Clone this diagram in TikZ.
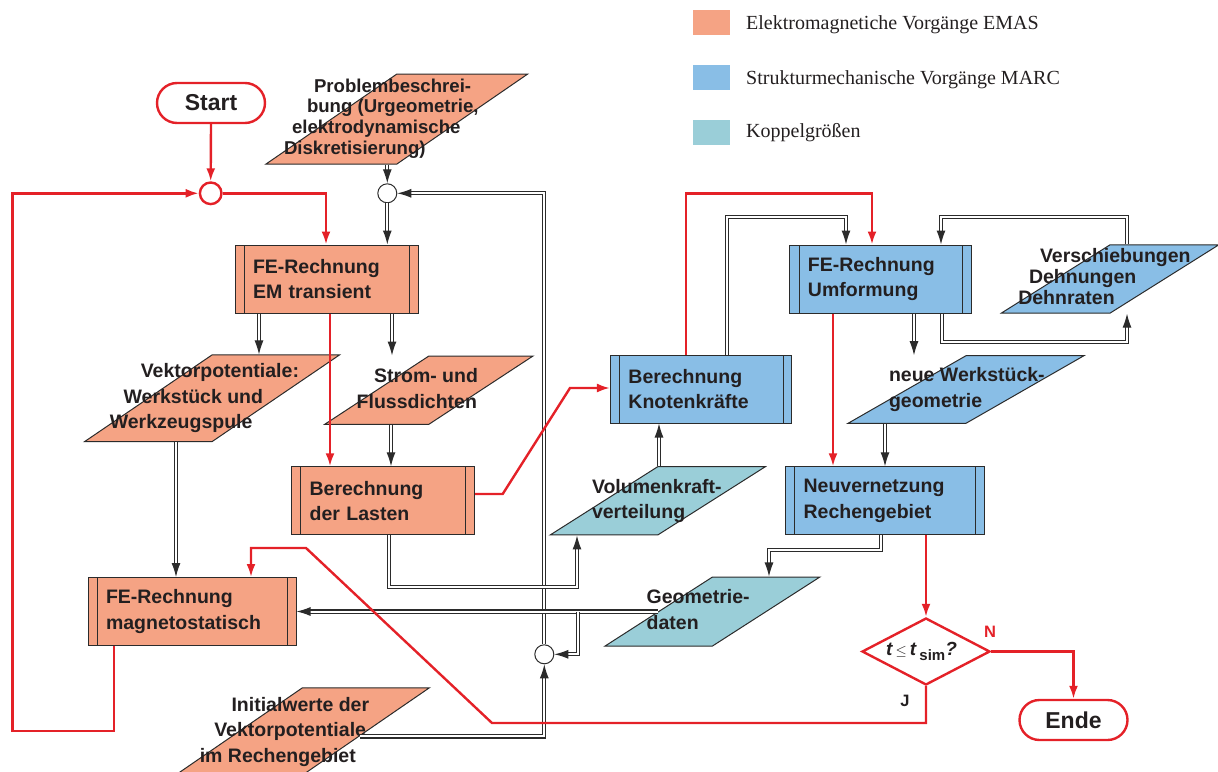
\documentclass[tikz,border=0pt]{standalone}
\usepackage{fontspec}
\setmainfont{Liberation Serif}
\setsansfont{Liberation Sans}
\usetikzlibrary{shapes.geometric,arrows.meta}
\definecolor{emas}{HTML}{F5A384}
\definecolor{marc}{HTML}{89BEE6}
\definecolor{koppel}{HTML}{9ACED8}
\definecolor{linec}{HTML}{2B2B2B}
\definecolor{redc}{HTML}{E42128}
\definecolor{txtc}{HTML}{231F20}
% text block of a slanted box: offset of its left edge from the centre, lines
\newcommand{\ptxt}[2]{\makebox[0pt][l]{\hspace*{#1}\begin{tabular}{@{}l@{}}#2\end{tabular}}}
\tikzset{
  boxfont/.style={font=\sffamily\bfseries\fontsize{19.5}{25.5}\selectfont, text=txtc},
  proc/.style={boxfont, rectangle, draw=linec, line width=1pt, minimum height=68pt,
    inner xsep=18pt, text width=#1, align=left,
    path picture={\draw[linec, line width=0.8pt]
      ([xshift=9pt]path picture bounding box.north west) -- ([xshift=9pt]path picture bounding box.south west)
      ([xshift=-9pt]path picture bounding box.north east) -- ([xshift=-9pt]path picture bounding box.south east);}},
  iobox/.style={boxfont, trapezium, trapezium stretches=true, draw=linec, line width=1pt, inner sep=0pt},
  term/.style={rectangle, rounded corners=20pt, draw=redc, line width=2.4pt, fill=white,
    minimum width=108pt, minimum height=40pt, font=\sffamily\bfseries\fontsize{23}{25}\selectfont, text=txtc},
  junc/.style={circle, draw=linec, line width=1pt, fill=white, inner sep=0pt, minimum size=#1},
  decide/.style={diamond, draw=redc, line width=2.4pt, fill=white, inner sep=0pt,
    minimum width=128pt, minimum height=67pt, text=txtc},
  dbl/.style={draw=linec, double=white, double distance=2pt, line width=1.1pt, -{Latex[length=14pt,width=9pt]}},
  redl/.style={draw=redc, line width=2.4pt, -{Latex[length=13pt,width=9pt]}},
  legbox/.style={minimum width=37pt, minimum height=25pt, inner sep=0pt},
  legtxt/.style={anchor=west, inner sep=0pt, font=\fontsize{20}{23}\selectfont, text=txtc},
  yn/.style={font=\sffamily\bfseries\fontsize{16.5}{17}\selectfont}
}
\begin{document}
\begin{tikzpicture}[x=1pt, y=-1pt]
\useasboundingbox (0,0) rectangle (1218,771);
% legend
\node[legbox, fill=emas] (legem) at (711.5,22.5) {};
\node[legtxt] (legemtxt) at (746,25) {Elektromagnetiche Vorgänge EMAS};
\node[legbox, fill=marc] (legmarc) at (711.5,77.5) {};
\node[legtxt] (legmarctxt) at (746,80) {Strukturmechanische Vorgänge MARC};
\node[legbox, fill=koppel] (legkop) at (711.5,132) {};
\node[legtxt] (legkoptxt) at (746,133) {Koppelgrößen};

% EMAS part
\node[term] (start) at (211,103) {Start};
\node[junc=21.6pt, draw=redc, line width=2.4pt] (circr) at (210.7,193.3) {};
\node[iobox, fill=emas, minimum width=262pt, minimum height=90pt, trapezium left angle=62, trapezium right angle=118,
  font=\sffamily\bfseries\fontsize{18.6}{20.6}\selectfont] (probl) at (396.9,119)
  {\ptxt{-112.9pt}{\hspace*{30pt}Problembeschrei-\\\hspace*{23pt}bung (Urgeometrie,\\\hspace*{8pt}elektrodynamische\\Diskretisierung)}};
\node[junc=19pt] (circ1) at (387.3,193.3) {};
\node[junc=19pt] (circ2) at (544.3,654.3) {};
\node[proc=147pt, fill=emas] (feem) at (326.5,279) {FE-Rechnung\\EM transient};
\node[iobox, fill=emas, minimum width=255.6pt, minimum height=86.7pt, trapezium left angle=60, trapezium right angle=120] (vekt) at (212,398.3)
  {\ptxt{-102.2pt}{\hspace*{31pt}Vektorpotentiale:\\\hspace*{13.8pt}Werkstück und\\Werkzeugspule}};
\node[iobox, fill=emas, minimum width=208.5pt, minimum height=68.3pt, trapezium left angle=59, trapezium right angle=121] (strom) at (428.8,390.2)
  {\ptxt{-72.1pt}{\hspace*{17.3pt}Strom- und\\Flussdichten}};
\node[proc=147pt, fill=emas] (lasten) at (383.1,500.8) {Berechnung\\der Lasten};
\node[proc=172pt, fill=emas] (femag) at (192,611.5) {FE-Rechnung\\magnetostatisch};
\node[iobox, fill=emas, minimum width=254.5pt, minimum height=87.3pt, trapezium left angle=60, trapezium right angle=120] (init) at (302.5,731.4)
  {\ptxt{-102.7pt}{\hspace*{31.7pt}Initialwerte der\\\hspace*{14.5pt}Vektorpotentiale\\im Rechengebiet}};

% MARC part
\node[proc=145.5pt, fill=marc] (knoten) at (701.2,389) {Berechnung\\Knotenkräfte};
\node[iobox, fill=koppel, minimum width=216.5pt, minimum height=68.3pt, trapezium left angle=58, trapezium right angle=122] (volk) at (657.8,500.8)
  {\ptxt{-65.8pt}{Volumenkraft-\\verteilung}};
\node[proc=145.5pt, fill=marc] (feumf) at (880.7,279) {FE-Rechnung\\Umformung};
\node[iobox, fill=marc, minimum width=218pt, minimum height=68.3pt, trapezium left angle=62, trapezium right angle=118,
  font=\sffamily\bfseries\fontsize{19.5}{21}\selectfont] (versch) at (1110,279)
  {\ptxt{-91.7pt}{\hspace*{21.7pt}Verschiebungen\\\hspace*{10.7pt}Dehnungen\\Dehnraten}};
\node[iobox, fill=marc, minimum width=236pt, minimum height=67.6pt, trapezium left angle=55, trapezium right angle=125] (neuw) at (966,389.5)
  {\ptxt{-77pt}{neue Werkstück-\\geometrie}};
\node[proc=162.4pt, fill=marc] (neuv) at (884.8,500.8) {Neuvernetzung\\Rechengebiet};
\node[iobox, fill=koppel, minimum width=215pt, minimum height=69pt, trapezium left angle=59, trapezium right angle=121] (geo) at (712.5,611.5)
  {\ptxt{-65.8pt}{Geometrie-\\daten}};
\node[decide] (dia) at (926,651.5)
  {\makebox[0pt]{\hspace*{-9pt}\sffamily\bfseries\itshape\fontsize{19}{21}\selectfont t\,{\normalfont\fontsize{14}{14}\selectfont$\leq$}\,t\,\raisebox{-5pt}{\upshape\fontsize{15}{15}\selectfont sim}?}};
\node[term] (ende) at (1073.5,720) {Ende};
\node[yn, text=redc] (lbln) at (990,632) {N};
\node[yn, text=txtc] (lblj) at (905,701) {J};

% black connectors
\draw[dbl] (probl.south -| circ1) -- (circ1.north);
\draw[dbl] (circ1.south) -- (feem.north -| circ1);
\draw[dbl] (circ2.north) |- (circ1.east);
\draw[dbl] (feem.south -| 259,0) -- (vekt.north -| 259,0);
\draw[dbl] (feem.south -| 392,0) -- (strom.north -| 392,0);
\draw[dbl] (vekt.south -| 176,0) -- (femag.north -| 176,0);
\draw[dbl] (strom.south -| 391,0) -- (lasten.north -| 391,0);
\draw[dbl] (lasten.south -| 389,0) |- (577,587) -- (volk.south -| 577,0);
\draw[dbl] (volk.north -| 659,0) -- (knoten.south -| 659,0);
\draw[dbl] (knoten.north -| 727,0) |- (846,217) -- (feumf.north -| 846,0);
\draw[dbl] (versch.north -| 1127,0) |- (941,217) -- (feumf.north -| 941,0);
\draw[dbl] (feumf.south -| 942,0) |- (1127,341.7) -- (versch.south -| 1127,0);
\draw[dbl] (feumf.south -| 914,0) -- (neuw.north -| 914,0);
\draw[dbl] (neuw.south -| 885,0) -- (neuv.north -| 885,0);
\draw[dbl] (neuv.south -| 881,0) |- (769,550) -- (geo.north -| 769,0);
\draw[dbl] (geo.west) -- (geo.west -| femag.east);
\coordinate (geobr) at (geo.west -| 578,0);
\draw[dbl] (geobr) |- (circ2.east);
\draw[dbl] (init.-5.7) -| (circ2.south);

% red connectors
\draw[redl] (start.south) -- (circr.north);
\draw[redl] (femag.south -| 114,0) |- (12.6,731) |- (circr.west);
\draw[redl] (circr.east) -| (feem.north -| 326,0);
\draw[redl] (feem.south -| 330,0) -- (lasten.north -| 330,0);
\draw[redl] (lasten.east |- 0,494) -- (502.7,494) -- (570,388) -- (knoten.west |- 0,388);
\draw[redl] (knoten.north -| 686,0) |- (872,193.3) -- (feumf.north -| 872,0);
\draw[redl] (feumf.south -| 833,0) -- (neuv.north -| 833,0);
\draw[redl] (neuv.south -| dia.north) -- (dia.north);
\draw[redl] (dia.east) -| (ende.north);
\draw[redl] (dia.south) |- (492,723) -- (306,548) -| (femag.north -| 251,0);
\end{tikzpicture}
\end{document}
